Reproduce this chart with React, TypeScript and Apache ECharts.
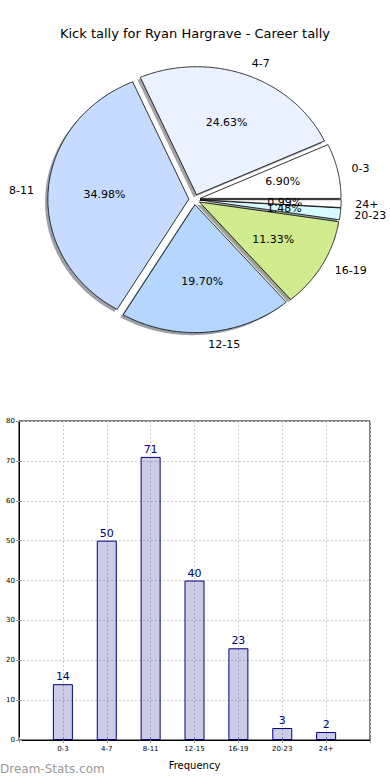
import React, { useEffect, useRef } from "react";
import * as echarts from "echarts";

const titleText = "Kick tally for Ryan Hargrave - Career tally";
const categories = ["0-3", "4-7", "8-11", "12-15", "16-19", "20-23", "24+"];
const counts = [14, 50, 71, 40, 23, 3, 2];
const sliceColors = ["#ffffff", "#eaf1ff", "#c6dbff", "#b5d6ff", "#d0ec8e", "#d5fbff", "#ffffff"];
const yMax = 80;
const yStep = 10;
const xLabel = "Frequency";
const watermark = "Dream-Stats.com";

const FONT = "DejaVu Sans";

function hexToRgb(h: string) {
  const n = parseInt(h.slice(1), 16);
  return [(n >> 16) & 255, (n >> 8) & 255, n & 255];
}

export default function App() {
  const ref = useRef<HTMLDivElement>(null);
  useEffect(() => {
    document.body.style.margin = "0";
    if (!ref.current) return;
    const chart = echarts.init(ref.current, null, { renderer: "svg" });
    const total = counts.reduce((a, b) => a + b, 0);
    const cx = 194.5;
    const cy = 199.5;
    const rx = 141;
    const ry = 128;
    const explode = 0.04;
    const shadowOff = 0.02;

    const renderPie = (params: any, api: any) => {
      const i = params.dataIndex;
      const v = api.value(0);
      let before = 0;
      for (let k = 0; k < i; k++) before += counts[k];
      const a1 = (before / total) * Math.PI * 2;
      const a2 = ((before + v) / total) * Math.PI * 2;
      const am = (a1 + a2) / 2;
      const ox = cx + explode * rx * Math.cos(am);
      const oy = cy - explode * ry * Math.sin(am);
      const pts: number[][] = [[ox, oy]];
      const steps = Math.max(2, Math.ceil((a2 - a1) / (Math.PI / 360)));
      for (let s = 0; s <= steps; s++) {
        const t = a1 + ((a2 - a1) * s) / steps;
        pts.push([ox + rx * Math.cos(t), oy - ry * Math.sin(t)]);
      }
      const sdx = -shadowOff * rx;
      const sdy = shadowOff * ry;
      const shadowPts = pts.map((p) => [p[0] + sdx, p[1] + sdy]);
      const rgb = hexToRgb(sliceColors[i]);
      const shadowFill = `rgba(${Math.round(rgb[0] * 0.3)},${Math.round(rgb[1] * 0.3)},${Math.round(rgb[2] * 0.3)},0.5)`;
      const cosm = Math.cos(am);
      const sinm = Math.sin(am);
      const lx = ox + 1.1 * rx * cosm;
      const ly = oy - 1.1 * ry * sinm;
      const px = ox + 0.6 * rx * cosm;
      const py = oy - 0.6 * ry * sinm;
      const pct = ((v / total) * 100).toFixed(2) + "%";
      return {
        type: "group",
        children: [
          { type: "polygon", shape: { points: shadowPts }, style: { fill: shadowFill }, z2: 1 },
          {
            type: "polygon",
            shape: { points: pts },
            style: { fill: sliceColors[i], stroke: "#000", lineWidth: 0.8 },
            z2: 5,
          },
          {
            type: "text",
            x: lx,
            y: ly,
            style: {
              text: categories[i],
              align: cosm > 0 ? "left" : "right",
              verticalAlign: "middle",
              fontSize: 11,
              fontFamily: FONT,
              fill: "#000",
            },
            z2: 10,
          },
          {
            type: "text",
            x: px,
            y: py,
            style: {
              text: pct,
              align: "center",
              verticalAlign: "middle",
              fontSize: 11,
              fontFamily: FONT,
              fill: "#000",
            },
            z2: 10,
          },
        ],
      };
    };

    const gridLine = { show: true, lineStyle: { color: "#cdcdcd", type: [2, 2], width: 1 } };

    chart.setOption({
      animation: false,
      title: {
        text: titleText,
        left: "center",
        top: 22,
        textStyle: { fontSize: 13, fontWeight: "normal", color: "#000", fontFamily: FONT },
      },
      grid: {
        left: 19,
        top: 421,
        width: 351,
        height: 319,
        show: true,
        borderColor: "#000",
        borderWidth: 1,
        backgroundColor: "transparent",
      },
      xAxis: [
        {
          type: "value",
          min: 0,
          max: categories.length + 1,
          interval: 1,
          name: xLabel,
          nameLocation: "middle",
          nameGap: 20,
          nameTextStyle: { fontSize: 10, fontFamily: FONT, color: "#000" },
          axisLine: { show: true, lineStyle: { color: "#000" } },
          axisTick: { show: true, inside: true, length: 3, lineStyle: { color: "#999" } },
          axisLabel: {
            fontSize: 7,
            fontFamily: FONT,
            color: "#000",
            margin: 5,
            formatter: (v: number) => categories[v - 1] || "",
          },
          splitLine: gridLine,
        },
        {
          type: "value",
          position: "top",
          min: 0,
          max: categories.length + 1,
          interval: 1,
          axisLine: { show: false },
          axisTick: { show: true, inside: true, length: 3, lineStyle: { color: "#999" } },
          axisLabel: { show: false },
          splitLine: { show: false },
        },
      ],
      yAxis: [
        {
          type: "value",
          min: 0,
          max: yMax,
          interval: yStep,
          axisLine: { show: true, lineStyle: { color: "#000" } },
          axisTick: { show: true, inside: true, length: 3, lineStyle: { color: "#999" } },
          axisLabel: { fontSize: 7, fontFamily: FONT, color: "#000", margin: 4 },
          splitLine: gridLine,
        },
        {
          type: "value",
          position: "right",
          min: 0,
          max: yMax,
          interval: yStep,
          axisLine: { show: false },
          axisTick: { show: true, inside: true, length: 3, lineStyle: { color: "#999" } },
          axisLabel: { show: false },
          splitLine: { show: false },
        },
      ],
      series: [
        {
          type: "custom",
          coordinateSystem: "none",
          renderItem: renderPie,
          data: counts.map((v, i) => [v, i]),
          silent: true,
        },
        {
          type: "bar",
          xAxisIndex: 0,
          yAxisIndex: 0,
          barWidth: 20,
          data: counts.map((v, i) => [i + 1, v]),
          itemStyle: { color: "rgba(0,0,128,0.2)", borderColor: "#000080", borderWidth: 1 },
          label: {
            show: true,
            position: "top",
            distance: 2,
            color: "#000080",
            fontSize: 11,
            fontFamily: FONT,
            formatter: (p: any) => String(p.value[1]),
          },
          silent: true,
        },
      ],
      graphic: [
        {
          type: "text",
          left: 0,
          top: 763,
          style: { text: watermark, fontSize: 12, fontFamily: FONT, fill: "#999" },
        },
      ],
    });
    return () => chart.dispose();
  }, []);
  return <div ref={ref} style={{ width: 390, height: 780 }} />;
}
